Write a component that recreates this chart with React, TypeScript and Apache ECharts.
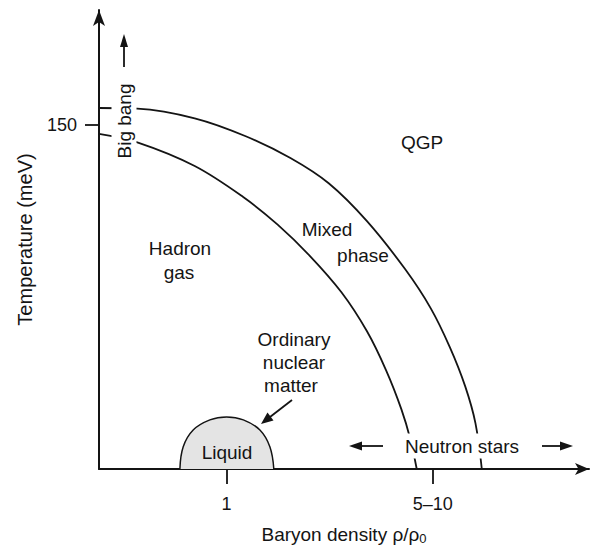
import React, { useEffect, useRef } from "react";
import * as echarts from "echarts";

// Phase boundary curves (x: schematic density units, y: temperature in meV)
const outerBoundary: [number, number][] = [
  [0, 157.3], [0.3, 157.0], [0.75, 152.8], [1.15, 145.0], [1.5, 135.5],
  [1.8, 124.5], [2.1, 108.0], [2.4, 87.0], [2.6, 70.0], [2.75, 53.0],
  [2.87, 36.0], [2.95, 20.0], [3.0, 0],
];
const innerBoundary: [number, number][] = [
  [0, 146.0], [0.3, 142.3], [0.75, 132.0], [1.13, 118.5], [1.4, 106.5],
  [1.65, 93.0], [1.9, 77.0], [2.1, 60.0], [2.25, 43.0], [2.37, 26.0],
  [2.44, 13.0], [2.49, 0],
];
const liquidDome: [number, number][] = [
  [0.634, 0], [0.66, 9.7], [0.738, 17.0], [0.869, 21.4], [1.0, 22.7],
  [1.131, 21.4], [1.261, 17.0], [1.339, 9.7], [1.37, 0],
];

const xTickValues = [1, 2.615];
const xTickLabels = ["1", "5–10"];
const yTickValues = [150];
const yTickLabels = ["150"];

const FONT = "'Liberation Sans', Arial, Helvetica, sans-serif";
const INK = "#141414";
const FS = 19;

export default function App() {
  const ref = useRef<HTMLDivElement>(null);
  useEffect(() => {
    document.body.style.margin = "0";
    if (!ref.current) return;
    const chart = echarts.init(ref.current, undefined, { renderer: "svg" });
    const nearestLabel = (vals: number[], labs: string[]) => (v: number) => {
      let bi = 0;
      vals.forEach((t, i) => {
        if (Math.abs(t - v) < Math.abs(vals[bi] - v)) bi = i;
      });
      return labs[bi];
    };
    const txt = (text: string, x: number, y: number, extra: any = {}) => ({
      type: "text",
      x,
      y,
      z: 100,
      ...extra,
      style: {
        text,
        fill: INK,
        fontSize: FS,
        fontFamily: FONT,
        align: "center",
        verticalAlign: "middle",
        ...(extra.style || {}),
      },
    });
    const line = (x1: number, y1: number, x2: number, y2: number) => ({
      type: "line",
      z: 100,
      shape: { x1, y1, x2, y2 },
      style: { stroke: INK, lineWidth: 1.8 },
    });
    const head = (pts: number[][]) => ({
      type: "polygon",
      z: 100,
      shape: { points: pts },
      style: { fill: INK },
    });

    chart.setOption({
      animation: false,
      grid: { left: 99, right: 6, top: 10, bottom: 77, outerBoundsMode: "none" },
      xAxis: {
        type: "value",
        min: 0,
        max: 3.84,
        name: "{a|Baryon density ρ/ρ}{s|0}",
        nameLocation: "middle",
        nameGap: 54,
        nameTextStyle: {
          rich: {
            a: { fontSize: FS, fontFamily: FONT, color: INK, lineHeight: 22, verticalAlign: "middle" },
            s: { fontSize: 13, fontFamily: FONT, color: INK, lineHeight: 13, verticalAlign: "bottom" },
          },
        },
        splitLine: { show: false },
        axisLine: {
          lineStyle: { color: INK, width: 2 },
          symbol: ["none", "arrow"],
          symbolSize: [9, 14],
        },
        axisTick: { customValues: xTickValues, length: 15, lineStyle: { color: INK, width: 1.8 } },
        axisLabel: {
          customValues: xTickValues,
          formatter: nearestLabel(xTickValues, xTickLabels),
          margin: 26,
          fontSize: 18,
          fontFamily: FONT,
          color: INK,
        },
      },
      yAxis: {
        type: "value",
        min: 0,
        max: 200,
        name: "Temperature (meV)",
        nameLocation: "middle",
        nameGap: 64,
        nameTextStyle: { fontSize: 20, fontFamily: FONT, color: INK },
        splitLine: { show: false },
        axisLine: {
          lineStyle: { color: INK, width: 2 },
          symbol: ["none", "arrow"],
          symbolSize: [9, 16],
        },
        axisTick: { customValues: yTickValues, length: 14, lineStyle: { color: INK, width: 1.8 } },
        axisLabel: {
          customValues: yTickValues,
          formatter: nearestLabel(yTickValues, yTickLabels),
          margin: 22,
          fontSize: 18,
          fontFamily: FONT,
          color: INK,
        },
      },
      series: [
        {
          type: "line",
          data: liquidDome,
          smooth: 0.4,
          symbol: "none",
          lineStyle: { color: INK, width: 1.5 },
          areaStyle: { color: "#e4e4e4", opacity: 1 },
          z: 3,
        },
        {
          type: "line",
          data: outerBoundary,
          smooth: 0.35,
          symbol: "none",
          lineStyle: { color: INK, width: 1.8 },
          z: 4,
        },
        {
          type: "line",
          data: innerBoundary,
          smooth: 0.35,
          symbol: "none",
          lineStyle: { color: INK, width: 1.8 },
          z: 4,
        },
      ],
      graphic: [
        txt("Big bang", 124, 121, {
          rotation: Math.PI / 2,
          style: { backgroundColor: "#fff", padding: [3, 2] },
        }),
        line(124, 67, 124, 44),
        head([[124, 34], [120, 47], [128, 47]]),
        txt("QGP", 422, 142),
        txt("Mixed", 327, 229),
        txt("phase", 363, 255),
        txt("Hadron", 180, 248),
        txt("gas", 179, 272),
        txt("Ordinary", 294, 339),
        txt("nuclear", 294, 362),
        txt("matter", 291, 385),
        line(292, 400, 270, 417),
        head([[261, 424], [273.5, 420.5], [267.5, 412.5]]),
        txt("Liquid", 227, 452),
        txt("Neutron stars", 462, 446, {
          style: { backgroundColor: "#fff", padding: [3, 4] },
        }),
        line(383, 446, 360, 446),
        head([[349, 446], [362, 441.5], [362, 450.5]]),
        line(542, 446, 562, 446),
        head([[573, 446], [560, 441.5], [560, 450.5]]),
      ],
    });
    return () => chart.dispose();
  }, []);
  return <div ref={ref} style={{ width: 595, height: 546 }} />;
}
